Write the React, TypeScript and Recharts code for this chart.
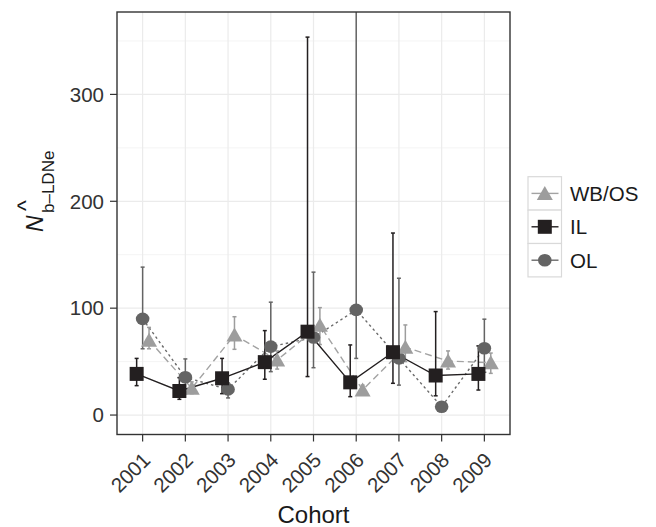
import { CartesianGrid, ErrorBar, Line, LineChart, XAxis, YAxis } from 'recharts';

// values (Nb-LDNe estimates with 95% CI)
const cohorts = ['2001', '2002', '2003', '2004', '2005', '2006', '2007', '2008', '2009'];
const seriesNames = ['WB/OS', 'IL', 'OL'];

const wbosNb = [70, 25, 75, 51.5, 84, 23.5, 63.5, 50.5, 49];
const wbosLow = [62, 20, 61.5, 43, 66, 19, 50, 43, 39];
const wbosHigh = [82, 31, 92, 60, 100.5, 28, 84.3, 60, 58];

const ilNb = [38.5, 22.5, 34.4, 49.5, 78, 30.6, 58.8, 37, 38.5];
const ilLow = [27.5, 14.7, 20, 33.5, 36, 17.2, 29.7, 18, 23.4];
const ilHigh = [53, 35, 53, 79, 353.6, 65.6, 170.3, 96.8, 64.7];

const olNb = [90, 35.3, 24, 64, 72.5, 98.4, 53, 7.8, 62.5];
const olLow = [62, 20, 16, 40.6, 44.3, 53, 28, 4, 40];
const olHigh = [138.4, 52.5, 30, 105.6, 133.7, 520, 128, 12, 89.7];

const yTicks = [0, 100, 200, 300];
const yMinor = [50, 150, 250, 350];

const FONT = '"Liberation Sans", Arial, sans-serif';
const PLOT = { left: 117, top: 12, right: 510, bottom: 434.5 };

type Shape = 'triangle' | 'square' | 'circle';

const styles: Record<string, { color: string; line: string; dash?: string; shape: Shape; offset: number }> = {
  'WB/OS': { color: '#9d9d9d', line: '#a3a3a3', dash: '7 4', shape: 'triangle', offset: 0.15 },
  IL: { color: '#231f20', line: '#231f20', shape: 'square', offset: -0.14 },
  OL: { color: '#646464', line: '#6a6a6a', dash: '2.5 3', shape: 'circle', offset: 0 },
};

const buildRows = (nb: number[], lo: number[], hi: number[], offset: number) =>
  cohorts.map((c, i) => ({ cohort: c, x: i + 1 + offset, nb: nb[i], err: [nb[i] - lo[i], hi[i] - nb[i]] }));

const seriesData: Record<string, ReturnType<typeof buildRows>> = {
  'WB/OS': buildRows(wbosNb, wbosLow, wbosHigh, styles['WB/OS'].offset),
  IL: buildRows(ilNb, ilLow, ilHigh, styles.IL.offset),
  OL: buildRows(olNb, olLow, olHigh, styles.OL.offset),
};

function Marker({ shape, cx, cy, color }: { shape: Shape; cx: number; cy: number; color: string }) {
  if (shape === 'square') return <rect x={cx - 7} y={cy - 7} width={14} height={14} fill={color} />;
  if (shape === 'circle') return <ellipse cx={cx} cy={cy} rx={6.8} ry={6.3} fill={color} />;
  return <polygon points={`${cx},${cy - 7.5} ${cx + 8},${cy + 6.5} ${cx - 8},${cy + 6.5}`} fill={color} />;
}

function CohortTick(props: any) {
  const { x, y, payload } = props;
  const ax = x + 9;
  const ay = y + 18;
  return (
    <text
      x={ax}
      y={ay}
      transform={`rotate(-45, ${ax}, ${ay})`}
      textAnchor="end"
      fontSize={20.5}
      fontFamily={FONT}
      fill="#333"
    >
      {cohorts[Math.round(payload.value) - 1]}
    </text>
  );
}

// draw OL first so IL / WB/OS sit on top
const drawOrder = ['OL', 'WB/OS', 'IL'];

export default function App() {
  return (
    <div style={{ position: 'absolute', left: 0, top: 0, width: 656, height: 527, background: '#fff' }}>
      <LineChart width={656} height={527} margin={{ top: PLOT.top, right: 656 - PLOT.right, bottom: 0, left: 0 }}>
        <CartesianGrid horizontalValues={yMinor} vertical={false} stroke="#f4f4f4" strokeWidth={1} />
        <CartesianGrid horizontalValues={yTicks} verticalValues={[1, 2, 3, 4, 5, 6, 7, 8, 9]} stroke="#ebebeb" strokeWidth={1.2} />
        <XAxis
          type="number"
          dataKey="x"
          domain={[0.4, 9.6]}
          ticks={[1, 2, 3, 4, 5, 6, 7, 8, 9]}
          allowDataOverflow
          interval={0}
          height={527 - PLOT.bottom}
          axisLine={false}
          tickLine={{ stroke: '#333', strokeWidth: 1.2 }}
          tickSize={7}
          tick={<CohortTick />}
        />
        <YAxis
          type="number"
          domain={[-18.2, 377.1]}
          ticks={yTicks}
          allowDataOverflow
          width={PLOT.left}
          axisLine={false}
          tickLine={{ stroke: '#333', strokeWidth: 1.2 }}
          tickSize={7}
          tickMargin={6}
          tick={{ fontSize: 20.5, fill: '#333', fontFamily: FONT }}
        />
        {drawOrder.map((name) => {
          const s = styles[name];
          return (
            <Line
              key={name}
              data={seriesData[name]}
              dataKey="nb"
              name={name}
              type="linear"
              stroke={s.line}
              strokeWidth={1.4}
              strokeDasharray={s.dash}
              isAnimationActive={false}
              dot={(p: any) => <Marker key={`${name}-${p.index}`} shape={s.shape} cx={p.cx} cy={p.cy} color={s.color} />}
              activeDot={false}
            >
              <ErrorBar dataKey="err" direction="y" width={2} stroke={s.color} strokeWidth={1.5} />
            </Line>
          );
        })}
      </LineChart>
      <svg width={656} height={527} style={{ position: 'absolute', left: 0, top: 0, pointerEvents: 'none' }}>
        {/* mask anything that runs above the panel (the 2006 OL interval) */}
        <rect x={PLOT.left - 2} y={0} width={PLOT.right - PLOT.left + 4} height={PLOT.top} fill="#fff" />
        <rect
          x={PLOT.left}
          y={PLOT.top}
          width={PLOT.right - PLOT.left}
          height={PLOT.bottom - PLOT.top}
          fill="none"
          stroke="#333"
          strokeWidth={1.4}
        />
        <g transform="translate(43, 232) rotate(-90)" fontFamily={FONT} fill="#1a1a1a">
          <text x={0} y={0} fontSize={23} fontStyle="italic">N</text>
          <text x={19} y={11} fontSize={17}>b–LDNe</text>
          <text x={21} y={-9} fontSize={23}>^</text>
        </g>
        <text x={(PLOT.left + PLOT.right) / 2} y={523} textAnchor="middle" fontSize={24} fontFamily={FONT} fill="#1a1a1a">
          Cohort
        </text>
        {seriesNames.map((name, i) => {
          const s = styles[name];
          const top = 176.7 + i * 33.4;
          const cy = top + 16.7;
          return (
            <g key={name}>
              <rect x={528} y={top} width={33.5} height={33.4} fill="#fff" stroke="#d9d9d9" strokeWidth={1.2} />
              <line x1={531.5} x2={558.5} y1={cy} y2={cy} stroke={s.line} strokeWidth={1.4} />
              <Marker shape={s.shape} cx={544.8} cy={cy} color={s.color} />
              <text x={570} y={cy + 7.3} fontSize={20.5} fontFamily={FONT} fill="#1a1a1a">
                {name}
              </text>
            </g>
          );
        })}
      </svg>
    </div>
  );
}
